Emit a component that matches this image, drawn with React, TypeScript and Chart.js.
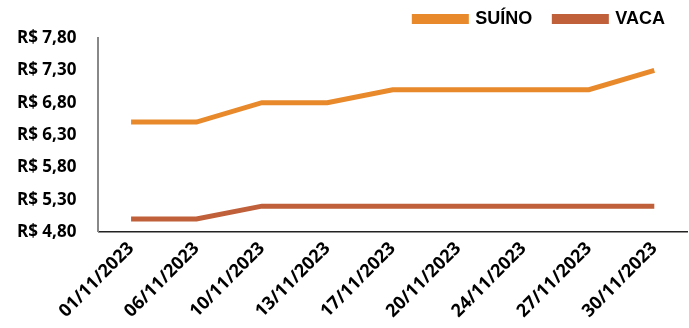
import React, { useEffect, useRef } from "react";
import { Chart, registerables } from "chart.js";

Chart.register(...registerables);

const categories = [
  "01/11/2023",
  "06/11/2023",
  "10/11/2023",
  "13/11/2023",
  "17/11/2023",
  "20/11/2023",
  "24/11/2023",
  "27/11/2023",
  "30/11/2023",
];
const suino = [6.5, 6.5, 6.8, 6.8, 7.0, 7.0, 7.0, 7.0, 7.3];
const vaca = [5.0, 5.0, 5.2, 5.2, 5.2, 5.2, 5.2, 5.2, 5.2];
const yMin = 4.8;
const yMax = 7.8;
const yStep = 0.5;

const fmt = (v: number) => "R$ " + v.toFixed(2).replace(".", ",");

export default function App() {
  const ref = useRef<HTMLCanvasElement | null>(null);
  useEffect(() => {
    if (!ref.current) return;
    const chart = new Chart(ref.current, {
      type: "line",
      data: {
        labels: categories,
        datasets: [
          {
            label: "SUÍNO",
            data: suino,
            borderColor: "#E8892B",
            backgroundColor: "#E8892B",
            borderWidth: 5,
            pointRadius: 0,
            tension: 0,
          },
          {
            label: "VACA",
            data: vaca,
            borderColor: "#C0603A",
            backgroundColor: "#C0603A",
            borderWidth: 5,
            pointRadius: 0,
            tension: 0,
          },
        ],
      },
      options: {
        animation: false,
        responsive: false,
        maintainAspectRatio: false,
        layout: { padding: { left: -5, right: 2, top: -12, bottom: 0 } },
        plugins: {
          tooltip: { enabled: false },
          legend: {
            position: "top",
            align: "end",
            labels: {
              boxWidth: 52,
              boxHeight: 5,
              padding: 22,
              color: "#000",
              font: { family: "'Liberation Sans', Arial", weight: "bold", size: 18 },
            },
          },
        },
        scales: {
          x: {
            offset: true,
            afterFit: (scale: any) => {
              scale.paddingLeft = 0;
            },
            grid: { display: false, drawTicks: false },
            border: { display: true, color: "#222", width: 1.5 },
            ticks: {
              color: "#000",
              minRotation: 45,
              maxRotation: 45,
              padding: 6,
              font: { family: "'Open Sans', 'Noto Sans', sans-serif", weight: "bold", size: 18 },
            },
          },
          y: {
            min: yMin,
            max: yMax,
            grid: { display: false, drawTicks: false },
            border: { display: true, color: "#888", width: 2 },
            ticks: {
              stepSize: yStep,
              color: "#000",
              padding: 22,
              font: { family: "'Open Sans', 'Noto Sans', sans-serif", weight: "bold", size: 17 },
              callback: (v: any) => fmt(Number(v)),
            },
          },
        },
      },
    });
    return () => chart.destroy();
  }, []);
  return (
    <div style={{ position: "fixed", left: 0, top: 0, width: 689, height: 328, background: "#fff" }}>
      <canvas ref={ref} width={689} height={328} />
    </div>
  );
}
